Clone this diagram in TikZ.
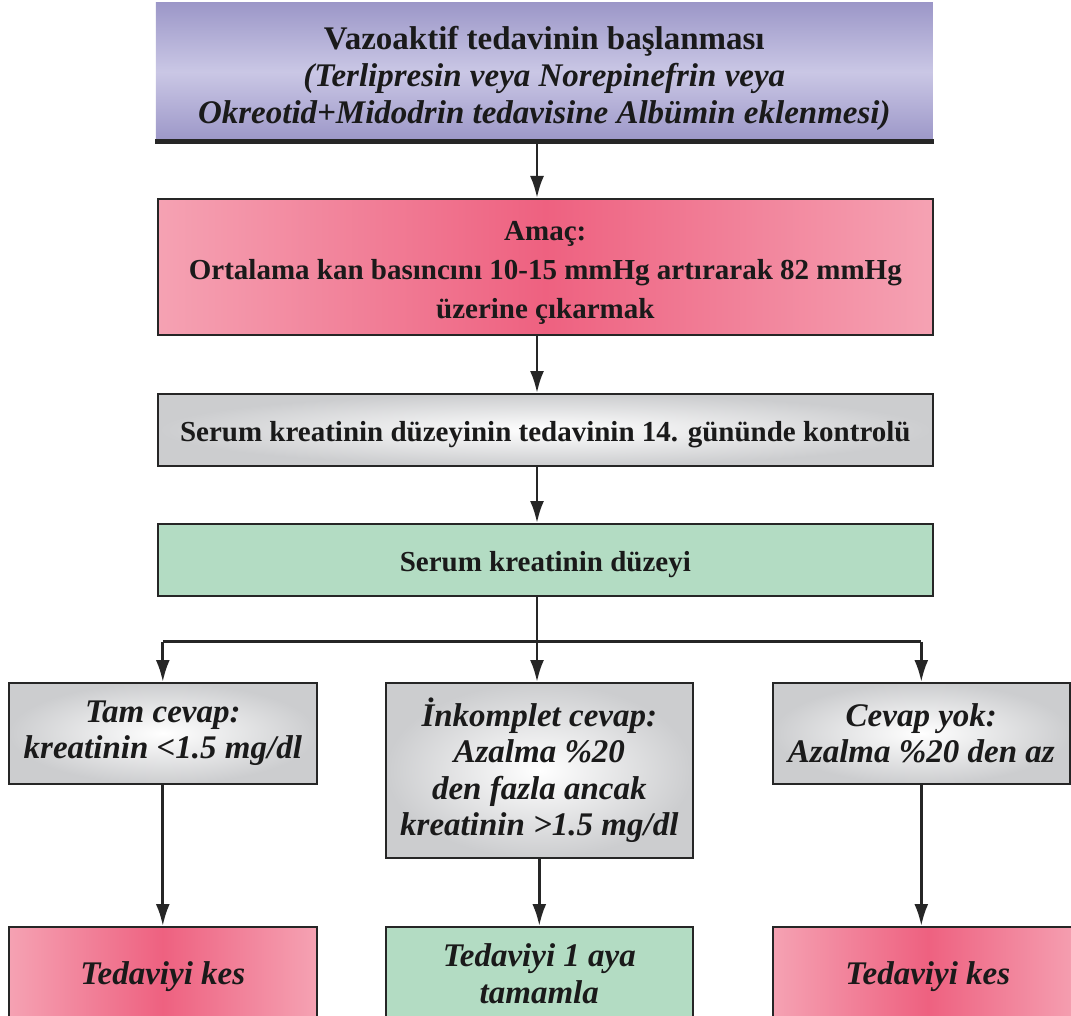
\documentclass[tikz,border=0pt]{standalone}
\usepackage{fontspec}
\setmainfont{Liberation Serif}
\usetikzlibrary{arrows.meta,calc}
\definecolor{purpA}{HTML}{9C97C8}
\definecolor{purpL}{HTML}{CAC7E5}
\definecolor{pinkL}{HTML}{F5A2B3}
\definecolor{pinkD}{HTML}{EE6180}
\definecolor{greyO}{HTML}{CCCDCF}
\definecolor{greenB}{HTML}{B3DCC3}
\definecolor{lineC}{HTML}{262626}
\definecolor{txt}{HTML}{1A1A1A}
\newcommand\tstrut[1]{\rule{0pt}{#1}}
\begin{document}
\begin{tikzpicture}[x=1pt,y=-1pt,
  box/.style={draw=lineC, line width=1.6pt, inner sep=0pt, align=center, anchor=north west, text=txt},
  pinkbox/.style={box, left color=pinkL, right color=pinkL, middle color=pinkD},
  greybox/.style={box, inner color=white, outer color=greyO},
  greenbox/.style={box, fill=greenB},
  topfont/.style={font=\fontsize{33}{37}\selectfont\bfseries},
  mainfont/.style={font=\fontsize{29}{39}\selectfont\bfseries},
  subfont/.style={font=\fontsize{33}{36.5}\selectfont\bfseries\itshape},
  arr/.style={line width=2.8pt, draw=lineC, -{Latex[length=22pt,width=14pt]}},
  ln/.style={line width=2.8pt, draw=lineC}]
\clip (0,0) rectangle (1071,1016);
\fill[white] (0,0) rectangle (1071,1016);
\coordinate (col) at (537,0);
% top box
\node[box, draw=none, top color=purpA, bottom color=purpA, middle color=purpL,
      minimum width=777pt, minimum height=138pt, topfont] (n1) at (155,2)
  {\tstrut{37pt}Vazoaktif tedavinin başlanması\\
   \textit{(Terlipresin veya Norepinefrin veya}\\
   \textit{Okreotid+Midodrin tedavisine Albümin eklenmesi)}};
\draw[line width=5pt, draw=lineC] (n1.south west) -- (n1.south east);
% aim box
\node[pinkbox, minimum width=775pt, minimum height=136pt, mainfont] (n2) at (157,198)
  {\tstrut{32pt}Amaç:\\Ortalama kan basıncını 10-15 mmHg artırarak 82 mmHg\\üzerine çıkarmak};
% control box
\node[greybox, minimum width=775pt, minimum height=72pt, mainfont] (n3) at (157,393)
  {\tstrut{30pt}Serum kreatinin düzeyinin tedavinin 14. gününde kontrolü};
% level box
\node[greenbox, minimum width=775pt, minimum height=72pt, mainfont] (n4) at (157,523)
  {\tstrut{29pt}Serum kreatinin düzeyi};
% response boxes
\node[greybox, minimum width=308pt, minimum height=101pt, subfont] (r1) at (8,682)
  {Tam cevap:\\kreatinin <1.5 mg/dl};
\node[greybox, minimum width=307pt, minimum height=175pt, subfont] (r2) at (385,682)
  {İnkomplet cevap:\\Azalma \%20\\den fazla ancak\\kreatinin >1.5 mg/dl};
\node[greybox, minimum width=297pt, minimum height=101pt, subfont] (r3) at (772,682)
  {Cevap yok:\\Azalma \%20 den az};
% outcome boxes
\node[pinkbox, minimum width=308pt, minimum height=94pt, subfont] (o1) at (8,926)
  {\tstrut{28pt}Tedaviyi kes};
\node[greenbox, minimum width=307pt, minimum height=94pt, subfont] (o2) at (385,926)
  {Tedaviyi 1 aya\\tamamla};
\node[pinkbox, minimum width=310pt, minimum height=94pt, subfont] (o3) at (772,926)
  {\tstrut{28pt}Tedaviyi kes};
% connectors
\draw[arr] (n1.south -| col) -- (n2.north -| col);
\draw[arr] (n2.south -| col) -- (n3.north -| col);
\draw[arr] (n3.south -| col) -- (n4.north -| col);
\coordinate (split) at ($(n4.south -| col)+(0,45)$);
\draw[ln] (n4.south -| col) -- (split);
\draw[ln] (split -| r1.north) -- (split -| r3.north);
\draw[arr] (split -| r1.north) -- (r1.north);
\draw[arr] (split) -- (r2.north -| col);
\draw[arr] (split -| r3.north) -- (r3.north);
\draw[arr] (r1.south) -- (o1.north);
\draw[arr] (r2.south) -- (o2.north);
\draw[arr] (r3.south) -- (o3.north -| r3.south);
\end{tikzpicture}
\end{document}
